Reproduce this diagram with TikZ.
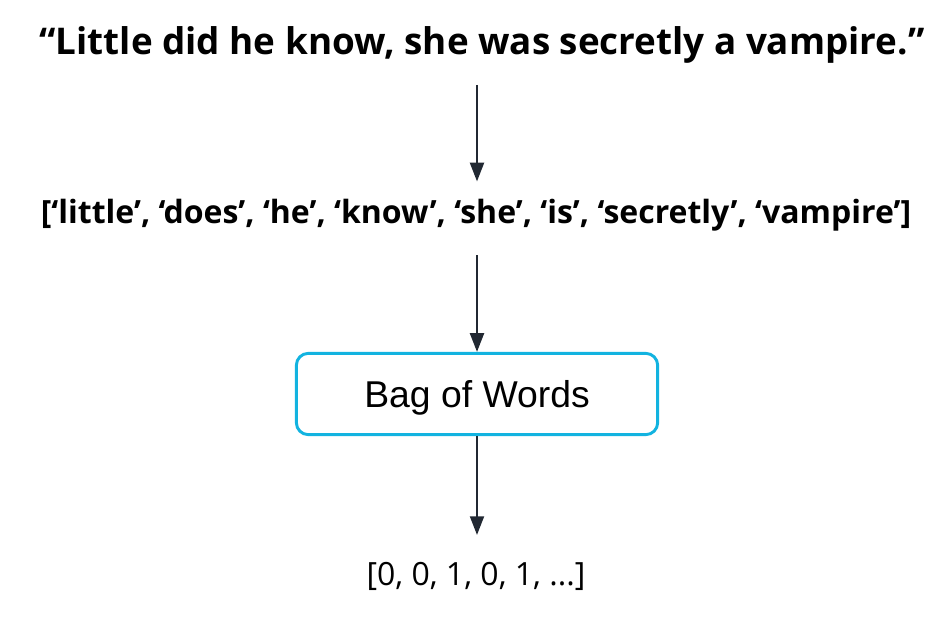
\documentclass[tikz,border=0pt]{standalone}
\usepackage{fontspec}
\setmainfont{Open Sans}
\newfontfamily\arialfont{Liberation Sans}
\usetikzlibrary{arrows.meta}
\definecolor{boxcyan}{HTML}{12B3E0}
\definecolor{arrowdark}{HTML}{212832}
\tikzset{
  flow/.style={draw=arrowdark,line width=1.5pt,-{Triangle[width=10.5pt,length=14pt]}},
  title/.style={font=\fontsize{27.6}{32}\selectfont\bfseries,inner sep=0pt},
  tokens/.style={font=\fontsize{24}{28}\selectfont\bfseries,inner sep=0pt},
  modelbox/.style={draw=boxcyan,line width=2.2pt,rounded corners=9pt,minimum width=271pt,minimum height=61pt,text depth=0pt,font=\arialfont\fontsize{28}{32}\selectfont},
  vector/.style={font=\fontsize{24}{28}\selectfont,inner sep=0pt}
}
\begin{document}
\begin{tikzpicture}[x=0.75pt,y=-0.75pt]
      \useasboundingbox (0,0) rectangle (945,634);

      % sentence
      \node[title] (sentence) at (482,45) {“Little did he know, she was secretly a vampire.”};
      % tokens
      \node[tokens] (tokens) at (476,215) {[‘little’, ‘does’, ‘he’, ‘know’, ‘she’, ‘is’, ‘secretly’, ‘vampire’]};
      % model
      \node[modelbox] (bow) at (477,394) {Bag of Words};
      % output
      \node[vector] (vec) at (476,576) {[0, 0, 1, 0, 1, ...]};

      \draw[flow,shorten <=16pt,shorten >=13pt] (sentence.south -| bow.north) -- (tokens.north -| bow.north);
      \draw[flow,shorten <=18pt] (tokens.south -| bow.north) -- (bow.north);
      \draw[flow,shorten >=20pt] (bow.south) -- (vec.north -| bow.south);
    \end{tikzpicture}
\end{document}
